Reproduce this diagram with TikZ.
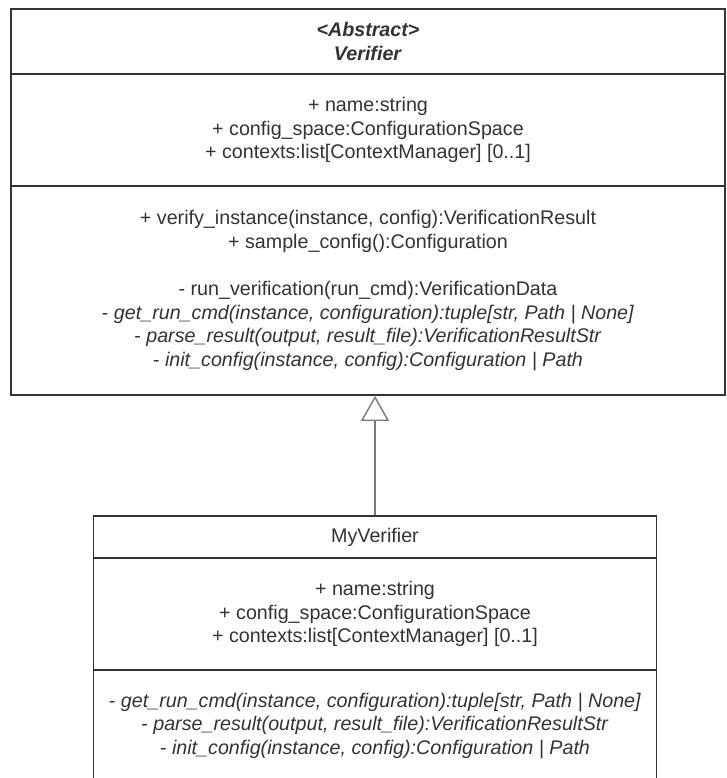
\documentclass[tikz,border=0pt]{standalone}
\usepackage{fontspec}
\setmainfont{Liberation Sans}
\usetikzlibrary{arrows.meta}
\definecolor{ink}{HTML}{333333}
\definecolor{conn}{HTML}{7A7A7A}
\tikzset{
  compart/.style={draw=ink, line width=1.8pt, rectangle, inner sep=0pt, align=center,
    text=ink, font=\fontsize{19.7}{23.7}\selectfont},
}
\begin{document}
\begin{tikzpicture}[x=1pt,y=-1pt]
\useasboundingbox (0,0) rectangle (726,778);
\clip (0,0) rectangle (726,778);
\fill[white] (0,0) rectangle (726,778);
% Verifier
\node[compart, minimum width=714pt, minimum height=65pt] (vtitle) at (368,41.5)
  {\textbf{\textit{<Abstract>}}\\\textbf{\textit{Verifier}}};
\node[compart, minimum width=714pt, minimum height=112pt] (vattr) at (368,130)
  {+ name:string\\+ config\_space:ConfigurationSpace\\+ contexts:list[ContextManager] [0..1]};
\node[compart, minimum width=714pt, minimum height=209pt] (vmeth) at (368,290.5)
  {+ verify\_instance(instance, config):VerificationResult\\+ sample\_config():Configuration\\[23.7pt]- run\_verification(run\_cmd):VerificationData\\- \textit{get\_run\_cmd(instance, configuration):tuple[str, Path | None]}\\- \textit{parse\_result(output, result\_file):VerificationResultStr}\\- \textit{init\_config(instance, config):Configuration | Path}};
% MyVerifier
\node[compart, minimum width=563pt, minimum height=42pt] (mtitle) at (375,537)
  {MyVerifier};
\node[compart, minimum width=563pt, minimum height=112pt] (mattr) at (375,614)
  {+ name:string\\+ config\_space:ConfigurationSpace\\+ contexts:list[ContextManager] [0..1]};
\node[compart, minimum width=563pt, minimum height=112pt] (mmeth) at (375,726)
  {- \textit{get\_run\_cmd(instance, configuration):tuple[str, Path | None]}\\- \textit{parse\_result(output, result\_file):VerificationResultStr}\\- \textit{init\_config(instance, config):Configuration | Path}};
% generalization
\draw[conn, line width=1.4pt, -{Triangle[open, length=25pt, width=28pt, line width=1.4pt]}]
  (mtitle.north) -- (mtitle.north |- vmeth.south);
\end{tikzpicture}
\end{document}
